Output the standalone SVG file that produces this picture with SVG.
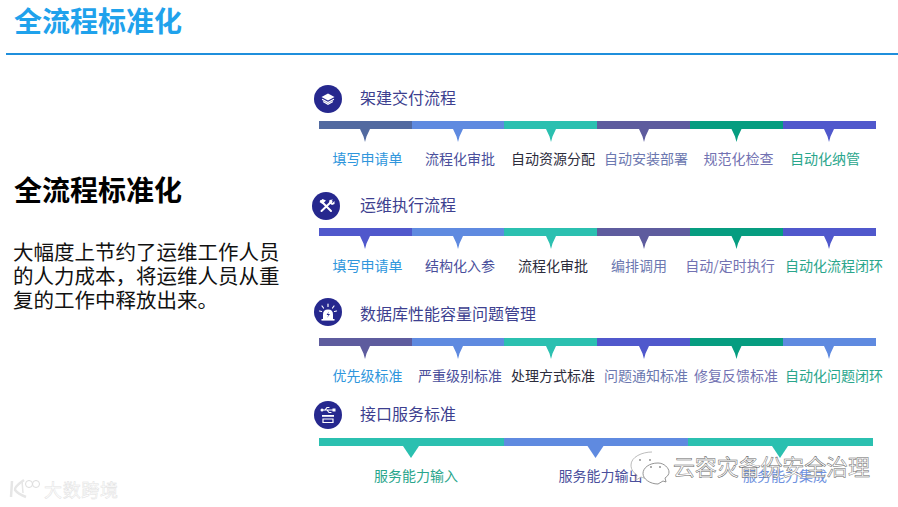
<svg xmlns="http://www.w3.org/2000/svg" width="898" height="507" viewBox="0 0 898 507">
<style>
text{font-family:"Noto Sans CJK SC","Liberation Sans",sans-serif}
.lb{font-size:14px;text-anchor:middle}
.hd{font-size:16px;fill:#3d3f8f}
.c1{fill:#526aa0}.c2{fill:#5f8ae0}.c3{fill:#2bc0b0}.c4{fill:#5e5c9e}.c5{fill:#069d80}.c6{fill:#5058cc}
.t1{fill:#2f96dc}.t2{fill:#4a4f9c}.t3{fill:#2c2c3c}.t4{fill:#6c78b0}.t5{fill:#7272b2}.t6{fill:#2aa68c}
.ic{fill:#26288e}.w{fill:#fff}.ws{fill:none;stroke:#fff;stroke-width:1.2;stroke-linecap:round}
.wm{font-size:22px;fill:#fff;stroke:#666;stroke-width:.5}
.wm2{font-size:18px;fill:#fff;stroke:#e2e2e2;stroke-width:.5}
</style>
<defs>
<path id="tri" d="M-5 0H5L1.5 7.500 0 13-1.500 7.500Z"/>
</defs>

<g id="header">
<text x="14" y="32" font-size="28" font-weight="700" fill="#1fa2ec">全流程标准化</text>
<rect x="6" y="53" width="892" height="2" fill="#1f8fdc"/>
</g>

<g id="summary">
<text x="14" y="201" font-size="28" font-weight="700" fill="#000">全流程标准化</text>
<text font-size="20.500" fill="#111"><tspan x="13" y="260">大幅度上节约了运维工作人员</tspan><tspan x="13" y="284">的人力成本，将运维人员从重</tspan><tspan x="13" y="308">复的工作中释放出来。</tspan></text>
</g>

<g id="connectors">
<g id="bar1">
<rect class="c1" x="319" y="121" width="93" height="8"/><rect class="c2" x="412" y="121" width="92" height="8"/><rect class="c3" x="504" y="121" width="93" height="8"/><rect class="c4" x="597" y="121" width="93" height="8"/><rect class="c5" x="690" y="121" width="93" height="8"/><rect class="c6" x="783" y="121" width="93" height="8"/>
<use href="#tri" class="c1" x="365" y="129"/><use href="#tri" class="c2" x="458" y="129"/><use href="#tri" class="c3" x="551" y="129"/><use href="#tri" class="c4" x="644" y="129"/><use href="#tri" class="c5" x="736.500" y="129"/><use href="#tri" class="c6" x="829" y="129"/>
</g>
<g id="bar2">
<rect class="c6" x="319" y="228" width="93" height="8"/><rect class="c2" x="412" y="228" width="92" height="8"/><rect class="c3" x="504" y="228" width="93" height="8"/><rect class="c4" x="597" y="228" width="93" height="8"/><rect class="c5" x="690" y="228" width="93" height="8"/><rect class="c6" x="783" y="228" width="93" height="8"/>
<use href="#tri" class="c6" x="365" y="236"/><use href="#tri" class="c2" x="458" y="236"/><use href="#tri" class="c3" x="551" y="236"/><use href="#tri" class="c4" x="644" y="236"/><use href="#tri" class="c5" x="736.500" y="236"/><use href="#tri" class="c6" x="829" y="236"/>
</g>
<g id="bar3">
<rect class="c4" x="319" y="338" width="93" height="8"/><rect class="c2" x="412" y="338" width="92" height="8"/><rect class="c3" x="504" y="338" width="93" height="8"/><rect class="c6" x="597" y="338" width="93" height="8"/><rect class="c5" x="690" y="338" width="93" height="8"/><rect class="c2" x="783" y="338" width="93" height="8"/>
<use href="#tri" class="c4" x="365" y="346"/><use href="#tri" class="c2" x="458" y="346"/><use href="#tri" class="c3" x="551" y="346"/><use href="#tri" class="c6" x="644" y="346"/><use href="#tri" class="c5" x="736.500" y="346"/><use href="#tri" class="c2" x="829" y="346"/>
</g>
<g id="bar4">
<rect class="c3" x="319" y="438" width="185" height="8"/><rect class="c2" x="504" y="438" width="184" height="8"/><rect class="c3" x="688" y="438" width="185" height="8"/>
<path class="c3" d="M403 446H419L411 458Z"/><path class="c2" d="M587.500 446H603.500L595.500 458Z"/><path class="c3" d="M772 446H788L780 458Z"/>
</g>
</g>

<g id="node-1">
<circle class="ic" cx="328" cy="99" r="14"/>
<path class="w" d="M328 93.500L334.500 97 328 100.500 321.500 97Z"/>
<path class="ws" d="M322.500 99.500L328 102.500 333.500 99.500M323.500 101.800L328 104.300 332.500 101.800"/>
<text class="hd" x="360" y="104">架建交付流程</text>
<text class="lb t1" x="367.500" y="164">填写申请单</text>
<text class="lb t2" x="460" y="164">流程化审批</text>
<text class="lb t3" x="553" y="164">自动资源分配</text>
<text class="lb t4" x="646" y="164">自动安装部署</text>
<text class="lb t5" x="738.500" y="164">规范化检查</text>
<text class="lb t6" x="825" y="164">自动化纳管</text>
</g>

<g id="node-2">
<circle class="ic" cx="326" cy="206" r="14"/>
<path d="M321 201L331 211M331.500 201.500L321.500 211" fill="none" stroke="#fff" stroke-width="2" stroke-linecap="round"/>
<path class="w" d="M319.500 202L322.500 199 326 200.500 322.500 204ZM329.500 200L333 199.500 331 201.500 332.500 203 334.500 201 334.500 204 332 205 329 203Z"/>
<text class="hd" x="360" y="211">运维执行流程</text>
<text class="lb t1" x="367.500" y="271">填写申请单</text>
<text class="lb t2" x="460" y="271">结构化入参</text>
<text class="lb t3" x="553" y="271">流程化审批</text>
<text class="lb t4" x="639" y="271">编排调用</text>
<text class="lb t5" x="730" y="271">自动/定时执行</text>
<text class="lb t6" x="834" y="271">自动化流程闭环</text>
</g>

<g id="node-3">
<circle class="ic" cx="328" cy="312" r="14"/>
<path class="w" d="M323 319V314.500Q323 309.500 328 309.500 333 309.500 333 314.500V319Z"/>
<rect class="w" x="321.500" y="319" width="13" height="1.600"/>
<path d="M329 311.500L326.500 315H328.500L327 318 330 314H328Z" fill="#26288e"/>
<path class="ws" d="M328 304V306.500M322 306L323.500 308M334 306L332.500 308M319.500 311L321.500 311.500M336.500 311L334.500 311.500"/>
<text class="hd" x="360" y="320">数据库性能容量问题管理</text>
<text class="lb t1" x="367.500" y="381">优先级标准</text>
<text class="lb t2" x="460" y="381">严重级别标准</text>
<text class="lb t3" x="553" y="381">处理方式标准</text>
<text class="lb t4" x="646" y="381">问题通知标准</text>
<text class="lb t5" x="736" y="381">修复反馈标准</text>
<text class="lb t6" x="834" y="381">自动化问题闭环</text>
</g>

<g id="node-4">
<circle class="ic" cx="328" cy="415" r="14"/>
<path class="ws" d="M322 410H334M325 410L327 407.500H329M327 410L329 412.500H331"/>
<circle class="w" cx="322" cy="410" r="1.500"/>
<rect class="w" x="332.500" y="408.500" width="3" height="3"/>
<rect x="322" y="415" width="12" height="1.800" class="w"/>
<path d="M323 419H333V422.500H323Z" fill="none" stroke="#fff" stroke-width="1.200"/>
<text class="hd" x="360" y="420">接口服务标准</text>
<text class="lb t6" x="416" y="480.500">服务能力输入</text>
<text class="lb t2" x="600.500" y="480.500">服务能力输出</text>
<text class="lb" x="785" y="480.500" fill="#6f92de">服务能力集成</text>
</g>

<g id="watermark-right">
<path d="M652 452C642 452 631 457 631 465 631 470 634 473 637 475L636 480 641 477C643 478 645 478 647 478" fill="#fff" stroke="#aaa" stroke-width=".8"/>
<path d="M658 463C649 463 643 468 643 473.500 643 479 650 484 658 484L663 481 666 482 665 478C668 476 669 474 669 472 669 468 664 463 658 463Z" fill="#fff" stroke="#888" stroke-width=".9"/>
<circle cx="640" cy="460" r=".9" fill="#888"/><circle cx="650" cy="460" r=".9" fill="#888"/><circle cx="651" cy="467" r=".9" fill="#888"/><circle cx="660" cy="467" r=".9" fill="#888"/>
<text class="wm" x="673" y="475" textLength="197">云容灾备份安全治理</text>
</g>

<g id="watermark-left">
<path d="M12 481L11 497M24 480Q14 487 15 490 18 494 26 497" fill="none" stroke="#e6e6e6" stroke-width="2.500"/>
<path d="M22 481L23 493" fill="none" stroke="#e6e6e6" stroke-width="1.500"/>
<circle cx="29" cy="484" r="3.500" fill="#fff" stroke="#dcdcdc"/><circle cx="36" cy="484" r="3.500" fill="#fff" stroke="#dcdcdc"/>
<text class="wm2" x="44" y="497" textLength="74">大数跨境</text>
</g>
</svg>
